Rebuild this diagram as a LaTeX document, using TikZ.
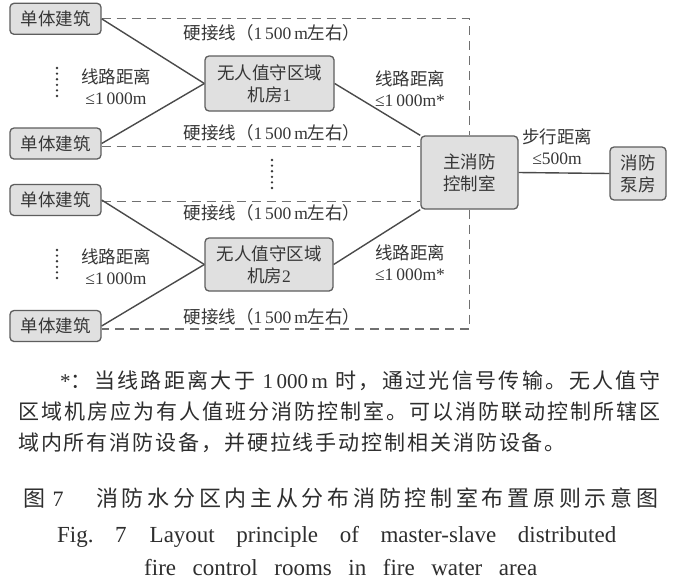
\documentclass[tikz,border=0pt]{standalone}
\usepackage{fontspec}
\setmainfont{Liberation Serif}
\newfontfamily\cjk{Noto Sans CJK SC}
\newcommand\C[1]{{\cjk #1}}
\newdimen\sprgap
\sprgap=0pt
\makeatletter
\def\spr#1{#1\spr@}
\def\spr@#1{\ifx#1\relax\else\hskip\sprgap plus 1fil\relax#1\expandafter\spr@\fi}
\makeatother
\definecolor{boxfill}{HTML}{E0E0E0}
\definecolor{boxline}{HTML}{5E5E5E}
\definecolor{conn}{HTML}{4A4A4A}
\definecolor{dashc}{HTML}{707070}
\definecolor{txt}{HTML}{363636}
\definecolor{note}{HTML}{2E2E2E}
\tikzset{
  boxsty/.style={draw=boxline, fill=boxfill, rounded corners=4pt, line width=1.3pt,
    text=txt, align=center, inner sep=0pt, font=\fontsize{17.5}{22}\selectfont},
  bld/.style={boxsty, minimum width=91pt, minimum height=31pt},
  lbl/.style={text=txt, align=center, inner sep=0pt, font=\fontsize{17.5}{21}\selectfont},
  conline/.style={draw=conn, line width=1.4pt},
  dashline/.style={draw=dashc, line width=1.2pt, dash pattern=on 9pt off 6pt},
  dotcol/.style={draw=txt, line width=2.6pt, line cap=round, dash pattern=on 0pt off 5.6pt},
  notesty/.style={text=note, inner sep=0pt, anchor=base west, font=\fontsize{21}{25}\selectfont},
  capsty/.style={text=note, inner sep=0pt, anchor=base west, font=\fontsize{22}{26}\selectfont},
  engsty/.style={text=note, inner sep=0pt, anchor=base west, font=\fontsize{23}{26}\selectfont}
}
\begin{document}
\begin{tikzpicture}[x=1pt,y=-1pt]
\useasboundingbox (0,0) rectangle (682,584);
\fill[white] (0,0) rectangle (682,584);

% boxes
\node[bld] (b1) at (55.5,18.8) {\C{单体建筑}};
\node[bld] (b2) at (55.5,143.5) {\C{单体建筑}};
\node[bld] (b3) at (55.5,200) {\C{单体建筑}};
\node[bld] (b4) at (55.5,326) {\C{单体建筑}};
\node[boxsty, minimum width=129pt, minimum height=55pt] (r1) at (269.5,83.5) {\C{无人值守区域}\\\C{机房}1};
\node[boxsty, minimum width=128pt, minimum height=53pt] (r2) at (269,264.5) {\C{无人值守区域}\\\C{机房}2};
\node[boxsty, minimum width=97pt, minimum height=73pt] (main) at (469.4,172.5) {\C{主消防}\\\C{控制室}};
\node[boxsty, minimum width=56pt, minimum height=53pt] (pump) at (638,173.5) {\C{消防}\\\C{泵房}};

% dashed hard wires
\coordinate (d2) at ([yshift=-3pt]b2.east);
\coordinate (d3) at ([yshift=-1.5pt]b3.east);
\coordinate (d4) at ([yshift=-3pt]b4.east);
\draw[dashline] (b1.east) -- (b1.east -| main.north) -- (main.north);
\draw[dashline] (d2) -- (d2 -| main.west);
\draw[dashline] (d3) -- (d3 -| main.west);
\draw[dashline] (main.south) -- (main.south |- d4) -- (d4);

% connectors
\draw[conline] (b1.east) -- (r1.west);
\draw[conline] (b2.east) -- (r1.west);
\draw[conline] (b3.east) -- (r2.west);
\draw[conline] (b4.east) -- (r2.west);
\draw[conline] (r1.east) -- (main.north west);
\draw[conline] (r2.east) -- (main.south west);
\draw[conline] (main.east) -- (pump.west);

% labels
\node[lbl] (h1) at (272,33) {\C{硬接线（}1\,500\,m\C{左右）}};
\node[lbl] (h2) at (272,133) {\C{硬接线（}1\,500\,m\C{左右）}};
\node[lbl] (h3) at (272,213) {\C{硬接线（}1\,500\,m\C{左右）}};
\node[lbl] (h4) at (272,317) {\C{硬接线（}1\,500\,m\C{左右）}};
\node[lbl] (l1) at (116,87) {\C{线路距离}\\≤1\,000m};
\node[lbl] (l2) at (116,267) {\C{线路距离}\\≤1\,000m};
\node[lbl] (q1) at (410,89) {\C{线路距离}\\≤1\,000m*};
\node[lbl] (q2) at (410,263) {\C{线路距离}\\≤1\,000m*};
\node[lbl] (w1) at (557,147) {\C{步行距离}\\≤500m};

% omission dots
\draw[dotcol] (57,68) -- (57,101);
\draw[dotcol] (57,250) -- (57,283);
\draw[dotcol] (272,160) -- (272,193);

% note
\node[notesty] (n1) at (60,388) {\makebox[600pt][s]{*\C{\spr ：当线路距离大于\relax}\hskip 5pt plus 1fil 1\,000\,m\hskip 5pt plus 1fil\C{\spr 时，通过光信号传输。无人值守\relax}}};
\node[notesty] (n2) at (18,419) {\makebox[642pt][s]{\C{\spr 区域机房应为有人值班分消防控制室。可以消防联动控制所辖区\relax}}};
\node[notesty] (n3) at (18,450) {\sprgap=1.9pt\C{\spr 域内所有消防设备，并硬拉线手动控制相关消防设备。\relax}};

% caption
\node[capsty] (c0) at (23,506) {\C{图}\,\,7};
\node[capsty] (c1) at (96,506) {\makebox[562pt][s]{\C{\spr 消防水分区内主从分布消防控制室布置原则示意图\relax}}};
\node[engsty] (c2) at (57,542) {\makebox[559pt][s]{Fig.\ 7\quad Layout principle of master-slave distributed}};
\node[engsty] (c3) at (144,575) {\makebox[393pt][s]{fire control rooms in fire water area}};
\end{tikzpicture}
\end{document}
